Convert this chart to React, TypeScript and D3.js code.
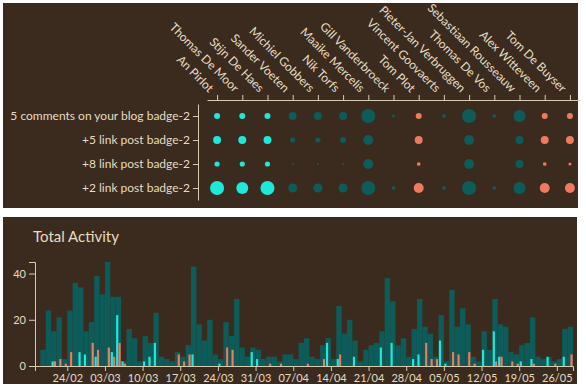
import { useEffect, useRef } from 'react'
import * as d3 from 'd3'

const width = 586
const height = 392

const people = [
  'An Pirlot', 'Thomas De Moor', 'Stijn De Haes', 'Sander Voeten', 'Michiel Gobbers',
  'Nik Torfs', 'Maaike Mercelis', 'Gill Vanderbroeck', 'Tom Plot', 'Vincent Goovaerts',
  'Pieter-Jan Verbruggen', 'Thomas De Vos', 'Sebastiaan Rousseauw', 'Alex Witteveen', 'Tom De Buyser'
]
const personGroup = [
  'cyan', 'cyan', 'cyan', 'teal', 'teal', 'teal', 'teal', 'teal',
  'salmon', 'teal', 'teal', 'teal', 'teal', 'salmon', 'salmon'
]
const badges = [
  '5 comments on your blog badge-2',
  '+5 link post badge-2',
  '+8 link post badge-2',
  '+2 link post badge-2'
]
const commentsBadge = [8, 8, 8, 14, 14, 14, 44, 2, 8, 3, 44, 3, 32, 8, 8]
const link5Badge = [14, 14, 14, 6, 6, 8, 22, 0, 14, 0, 22, 0, 14, 14, 14]
const link8Badge = [6, 6, 6, 1, 1, 1, 22, 0, 3, 0, 22, 0, 14, 3, 2]
const link2Badge = [44, 32, 44, 18, 18, 18, 44, 3, 22, 3, 44, 3, 32, 22, 22]
const badgeCounts = [commentsBadge, link5Badge, link8Badge, link2Badge]

const startDay = new Date(2014, 1, 18)
const endDay = new Date(2014, 4, 29)
const totalActivity = [
  0, 7, 24, 15, 21, 3, 24, 36, 34, 15,
  19, 39, 31, 45, 30, 30, 2, 16, 12, 2,
  13, 10, 23, 4, 3, 2, 6, 4, 9, 43,
  18, 11, 20, 5, 3, 19, 13, 29, 8, 4,
  8, 7, 3, 4, 4, 2, 5, 5, 3, 10,
  12, 4, 3, 9, 12, 3, 26, 14, 20, 11,
  2, 7, 9, 10, 15, 38, 28, 9, 12, 4,
  16, 29, 17, 14, 4, 22, 2, 33, 17, 25,
  18, 4, 2, 15, 7, 29, 18, 17, 6, 5,
  9, 10, 21, 4, 3, 4, 2, 3, 16, 17
]
const cyanActivity = [
  0, 0, 0, 2, 0, 0, 0, 0, 6, 5,
  0, 4, 0, 0, 6, 22, 2, 0, 0, 0,
  2, 4, 10, 0, 0, 0, 0, 0, 0, 5,
  0, 0, 0, 0, 1, 0, 0, 0, 0, 0,
  6, 3, 0, 0, 0, 0, 0, 0, 0, 0,
  0, 0, 0, 0, 10, 0, 3, 0, 0, 4,
  0, 0, 0, 0, 8, 0, 10, 0, 0, 0,
  3, 5, 0, 0, 0, 11, 1, 0, 0, 0,
  0, 0, 0, 7, 0, 15, 4, 0, 0, 0,
  2, 0, 3, 0, 0, 4, 0, 0, 4, 0
]
const salmonActivity = [
  0, 0, 0, 2, 3, 1, 6, 0, 0, 0,
  10, 7, 0, 8, 4, 10, 1, 0, 0, 0,
  0, 0, 0, 0, 0, 0, 5, 2, 5, 0,
  0, 0, 0, 0, 0, 8, 7, 0, 0, 0,
  0, 0, 0, 1, 0, 1, 0, 0, 0, 0,
  1, 0, 0, 3, 0, 0, 5, 0, 0, 0,
  0, 0, 0, 0, 0, 0, 0, 0, 0, 0,
  0, 0, 10, 3, 3, 0, 0, 6, 5, 0,
  6, 1, 0, 0, 0, 2, 4, 0, 2, 1,
  0, 0, 1, 0, 0, 0, 1, 0, 0, 5
]
const activityTicks = [0, 20, 40]

const bg = '#3a2b1e'
const ink = '#e6dcc4'
const axisInk = '#d8ccb0'
const colors: Record<string, string> = { cyan: '#1ee8da', teal: '#0d5c59', salmon: '#ef7a60' }
const font = 'Lato, "Open Sans", sans-serif'

function App() {
  const topXRef = useRef<SVGGElement>(null)
  const topYRef = useRef<SVGGElement>(null)
  const botXRef = useRef<SVGGElement>(null)
  const botYRef = useRef<SVGGElement>(null)

  const colScale = d3.scalePoint<string>().domain(people).range([207, 580]).padding(0.4)
  const rowScale = d3.scalePoint<string>().domain(badges).range([104, 200]).padding(0.5)
  const rScale = d3.scaleSqrt().domain([0, 50]).range([0, 7.5])

  const days = totalActivity.map((_, i) => d3.timeDay.offset(startDay, i))
  const xTime = d3.scaleTime().domain([startDay, endDay]).range([35, 573])
  const yAct = d3.scaleLinear().domain([0, 45]).range([366, 262])

  useEffect(() => {
    const style = (g: d3.Selection<SVGGElement, unknown, null, undefined>, size: number) => {
      g.attr('font-family', font).attr('font-size', size)
      g.selectAll('path, line').attr('stroke', axisInk)
      g.selectAll('text').attr('fill', ink)
    }
    const tx = d3.select(topXRef.current!)
    tx.call(d3.axisTop(colScale).tickSize(5).tickSizeOuter(0))
    style(tx, 12)
    tx.selectAll('text')
      .attr('text-anchor', 'end')
      .attr('x', 0).attr('y', 0).attr('dy', 0)
      .attr('transform', 'translate(-9,-7) rotate(45)')

    const ty = d3.select(topYRef.current!)
    ty.call(d3.axisLeft(rowScale).tickSize(5).tickSizeOuter(0))
    style(ty, 12)

    const bx = d3.select(botXRef.current!)
    bx.call(
      d3.axisBottom(xTime)
        .tickValues(d3.timeMonday.range(startDay, endDay))
        .tickFormat(d3.timeFormat('%d/%m') as any)
        .tickSize(5)
    )
    style(bx, 11)

    const by = d3.select(botYRef.current!)
    by.call(d3.axisLeft(yAct).tickValues(activityTicks).tickSize(6))
    style(by, 11)
  }, [])

  return (
    <svg width={width} height={height} style={{ position: 'absolute', left: 0, top: 0, background: '#fff' }}>
      <defs>
        <clipPath id="botClip">
          <rect x={3} y={217} width={574} height={167} />
        </clipPath>
      </defs>
      <rect x={3} y={3} width={575} height={205} fill={bg} />
      <rect x={3} y={217} width={574} height={167} fill={bg} />

      <g ref={topXRef} transform="translate(0,100)" />
      <g ref={topYRef} transform="translate(198,0)" />
      {badgeCounts.map((row, ri) =>
        row.map((v, ci) => (
          <circle
            key={ri + '-' + ci}
            cx={colScale(people[ci])}
            cy={rowScale(badges[ri])}
            r={rScale(v)}
            fill={colors[personGroup[ci]]}
          />
        ))
      )}

      <g clipPath="url(#botClip)">
        <text x={33} y={242} fill={ink} fontFamily={font} fontSize={15}>Total Activity</text>
        {days.map((d, i) => {
          const x0 = xTime(d)
          const w = xTime(d3.timeDay.offset(d, 1)) - x0
          return (
            <g key={i}>
              <rect x={x0} y={yAct(totalActivity[i])} width={w} height={yAct(0) - yAct(totalActivity[i])} fill={colors.teal} />
              {cyanActivity[i] > 0 && (
                <rect x={x0 + 0.4} y={yAct(cyanActivity[i])} width={2.2} height={yAct(0) - yAct(cyanActivity[i])} fill={colors.cyan} />
              )}
              {salmonActivity[i] > 0 && (
                <rect x={x0 + 2.8} y={yAct(salmonActivity[i])} width={2.2} height={yAct(0) - yAct(salmonActivity[i])} fill={colors.salmon} />
              )}
            </g>
          )
        })}
        <g ref={botXRef} transform="translate(0,366)" />
        <g ref={botYRef} transform="translate(35,0)" />
      </g>
    </svg>
  )
}

export default App
